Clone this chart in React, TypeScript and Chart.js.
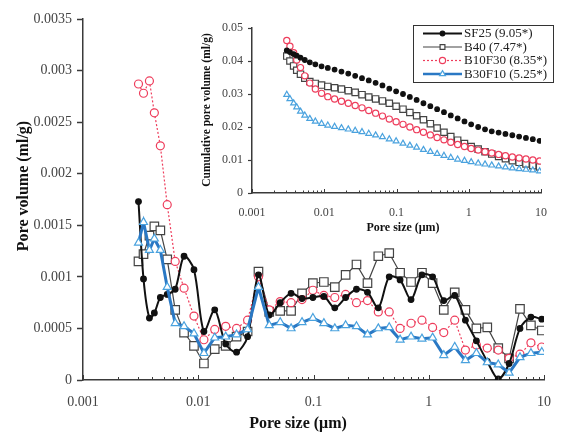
import React, { useEffect, useRef } from "react";
import { Chart, registerables } from "chart.js";

Chart.register(...registerables);

// ---------- data ----------
const poreSize = [
  0.00303, 0.00335, 0.00377, 0.00416, 0.00469, 0.00538, 0.00631, 0.00753, 0.00918,
  0.0112, 0.0139, 0.0173, 0.0215, 0.0268, 0.0333, 0.0413, 0.0514, 0.0639, 0.0795,
  0.0988, 0.123, 0.153, 0.19, 0.236, 0.294, 0.365, 0.454, 0.564, 0.702,
  0.873, 1.08, 1.35, 1.68, 2.08, 2.59, 3.22, 4.01, 4.98, 6.19,
  7.7, 9.57,
];

const sf25 = [
  0.00173, 0.00098, 0.0006, 0.00065, 0.0008, 0.00083, 0.00088, 0.0012, 0.00107,
  0.00047, 0.00068, 0.00035, 0.00027, 0.00042, 0.00102, 0.00063, 0.00075, 0.00084, 0.00079,
  0.0008, 0.00081, 0.0007, 0.0008, 0.00088, 0.00085, 0.0007, 0.001, 0.00097, 0.00078,
  0.00102, 0.001, 0.00077, 0.00082, 0.00058, 0.00038, 0.00018, 0.00001, 0.00016, 0.0005,
  0.00061, 0.00059,
];
const b40 = [
  0.00115, 0.00122, 0.0014, 0.00149, 0.00145, 0.00117, 0.00068, 0.00046, 0.00033,
  0.00016, 0.0003, 0.00033, 0.00042, 0.00047, 0.00105, 0.00066, 0.00067, 0.00067, 0.00084,
  0.00094, 0.00095, 0.0009, 0.00102, 0.00112, 0.00094, 0.0012, 0.00123, 0.00104, 0.00095,
  0.00104, 0.00094, 0.00068, 0.00085, 0.00068, 0.0005, 0.00051, 0.00031, 0.00021, 0.00069,
  0.00053, 0.00048,
];
const b10f30 = [
  0.00287, 0.00278, 0.0029, 0.00259, 0.00227, 0.0017, 0.00115, 0.00089, 0.00062,
  0.00039, 0.00049, 0.00052, 0.0005, 0.00058, 0.001, 0.00068, 0.00076, 0.00075, 0.00078,
  0.00087, 0.00082, 0.0008, 0.00083, 0.00075, 0.00077, 0.00066, 0.00066, 0.0005, 0.00055,
  0.00058, 0.00051, 0.00046, 0.00058, 0.00029, 0.00034, 0.00031, 0.00029, 0.00021, 0.00025,
  0.00036, 0.00032,
];
const b30f10 = [
  0.00133, 0.00153, 0.00126, 0.00137, 0.00126, 0.0009, 0.00055, 0.00052, 0.00045,
  0.00026, 0.00041, 0.00042, 0.00044, 0.00049, 0.0009, 0.00053, 0.00056, 0.0005, 0.00056,
  0.0006, 0.00055, 0.0005, 0.00053, 0.00052, 0.00044, 0.0005, 0.00051, 0.00039, 0.00042,
  0.0004, 0.00041, 0.00024, 0.00032, 0.00019, 0.00026, 0.00017, 0.00015, 0.00007, 0.00022,
  0.00026, 0.00027,
];

const cumSf25 = [
  0.0432, 0.0427, 0.0421, 0.0416, 0.041, 0.0403, 0.0396, 0.039, 0.0384,
  0.0379, 0.0374, 0.0368, 0.0362, 0.0355, 0.0348, 0.0341, 0.0334, 0.0326, 0.0316,
  0.0308, 0.03, 0.0291, 0.0282, 0.0272, 0.0263, 0.0254, 0.0245, 0.0235, 0.0226,
  0.0217, 0.0208, 0.02, 0.0193, 0.0187, 0.0183, 0.0179, 0.0175, 0.0171, 0.0167,
  0.0163, 0.0158,
];
const cumB40 = [
  0.0415, 0.04, 0.0385, 0.0372, 0.036, 0.0348, 0.0338, 0.0332, 0.0327,
  0.0323, 0.0319, 0.0315, 0.031, 0.0305, 0.0298, 0.0291, 0.0285, 0.0279, 0.0272,
  0.0263, 0.0254, 0.0244, 0.0234, 0.0222, 0.021, 0.0197, 0.0184, 0.0171, 0.016,
  0.015, 0.0141, 0.0133, 0.0125, 0.0118, 0.0111, 0.0104, 0.0098, 0.0093, 0.0088,
  0.0083, 0.0079,
];
const cumB10f30 = [
  0.0462, 0.0445, 0.0425, 0.0403, 0.038, 0.0355, 0.0333, 0.0315, 0.0302,
  0.0292, 0.0285, 0.0278, 0.0272, 0.0265, 0.0258, 0.025, 0.0242, 0.0233, 0.0224,
  0.0216, 0.0208, 0.02, 0.0192, 0.0184, 0.0176, 0.0168, 0.0161, 0.0154, 0.0147,
  0.0141, 0.0135, 0.013, 0.0125, 0.0121, 0.0117, 0.0113, 0.0109, 0.0106, 0.0103,
  0.01, 0.0097,
];
const cumB30f10 = [
  0.0298, 0.0285, 0.0272, 0.026, 0.0247, 0.0235, 0.0225, 0.0217, 0.021,
  0.0205, 0.0201, 0.0197, 0.0193, 0.0189, 0.0185, 0.018, 0.0175, 0.017, 0.0163,
  0.0157, 0.015, 0.0144, 0.0138, 0.0131, 0.0125, 0.0119, 0.0113, 0.0107, 0.0102,
  0.0098, 0.0094, 0.009, 0.0087, 0.0084, 0.0081, 0.0078, 0.0075, 0.0073, 0.0071,
  0.0069, 0.0066,
];

const seriesNames = ["SF25 (9.05*)", "B40 (7.47*)", "B10F30 (8.35*)", "B30F10 (5.25*)"];

const xTickValues = [0.001, 0.01, 0.1, 1, 10];
const xTickLabels = ["0.001", "0.01", "0.1", "1", "10"];
const yTickValues = [0, 0.0005, 0.001, 0.0015, 0.002, 0.0025, 0.003, 0.0035];
const yTickLabels = ["0", "0.0005", "0.001", "0.0015", "0.002", "0.0025", "0.003", "0.0035"];
const insetYTickValues = [0, 0.01, 0.02, 0.03, 0.04, 0.05];
const insetYTickLabels = ["0", "0.01", "0.02", "0.03", "0.04", "0.05"];

// ---------- styles ----------
const FONT = '"Liberation Serif", "Times New Roman", serif';
const AXIS = "#3a3a3a";
const LABEL = "#444";

type Sty = {
  line: string; stroke: string; fill: string; width: number; dash: number[];
  point: string; r: number; ir: number; tension: number; order: number;
};
const STY: Sty[] = [
  { line: "#111", stroke: "#111", fill: "#111", width: 2, dash: [], point: "circle", r: 2.8, ir: 2.3, tension: 0.3, order: 2 },
  { line: "#444", stroke: "#444", fill: "#fff", width: 1.2, dash: [], point: "rect", r: 6, ir: 4.5, tension: 0, order: 4 },
  { line: "#ee3d5c", stroke: "#ee3d5c", fill: "#fff", width: 1.2, dash: [2, 2], point: "circle", r: 4, ir: 3.1, tension: 0, order: 3 },
  { line: "#2a78c4", stroke: "#4aa2de", fill: "#fff", width: 3, dash: [], point: "triangle", r: 4.6, ir: 3.4, tension: 0, order: 1 },
];

function drawMarker(ctx: CanvasRenderingContext2D, kind: string, x: number, y: number, r: number, fill: string, stroke: string) {
  ctx.beginPath();
  if (kind === "circle") ctx.arc(x, y, r, 0, Math.PI * 2);
  else if (kind === "rect") {
    const s = r * Math.SQRT1_2;
    ctx.rect(x - s, y - s, 2 * s, 2 * s);
  } else {
    ctx.moveTo(x, y - r);
    ctx.lineTo(x + 0.866 * r, y + 0.5 * r);
    ctx.lineTo(x - 0.866 * r, y + 0.5 * r);
    ctx.closePath();
  }
  ctx.fillStyle = fill;
  ctx.fill();
  ctx.lineWidth = 1.2;
  ctx.strokeStyle = stroke;
  ctx.stroke();
}

type Decor = {
  major: number; minor: number;
  yTitle: string; yTitleX: number; yTitleY: number; yTitleFont: string;
  xTitle: string; xTitleX: number; xTitleY: number; xTitleFont: string;
  legend?: boolean;
};

function decorPlugin(d: Decor) {
  return {
    id: "decor",
    afterDraw(chart: any) {
      const ctx: CanvasRenderingContext2D = chart.ctx;
      const xs = chart.scales.x;
      const area = chart.chartArea;
      ctx.save();
      ctx.strokeStyle = AXIS;
      ctx.lineWidth = 1;
      for (const dec of xTickValues) {
        for (let m = 1; m <= 9; m++) {
          const v = dec * m;
          if (v > xs.max * 1.0001) continue;
          const px = Math.round(xs.getPixelForValue(v)) + 0.5;
          const len = m === 1 ? d.major : d.minor;
          ctx.beginPath();
          ctx.moveTo(px, area.bottom);
          ctx.lineTo(px, area.bottom - len);
          ctx.stroke();
        }
      }
      ctx.fillStyle = "#111";
      ctx.textAlign = "center";
      ctx.textBaseline = "middle";
      ctx.font = d.xTitleFont;
      ctx.fillText(d.xTitle, d.xTitleX, d.xTitleY);
      ctx.save();
      ctx.translate(d.yTitleX, d.yTitleY);
      ctx.rotate(-Math.PI / 2);
      ctx.font = d.yTitleFont;
      ctx.fillText(d.yTitle, 0, 0);
      ctx.restore();

      if (d.legend) {
        const bx = 223, by = 15, bw = 140, bh = 57;
        ctx.fillStyle = "#fff";
        ctx.fillRect(bx, by, bw, bh);
        ctx.strokeStyle = "#333";
        ctx.lineWidth = 1;
        ctx.strokeRect(bx + 0.5, by + 0.5, bw, bh);
        seriesNames.forEach((name, i) => {
          const s = STY[i];
          const y = by + 8.5 + i * 13.5;
          ctx.save();
          ctx.strokeStyle = s.line;
          ctx.lineWidth = Math.min(s.width, 2.5);
          ctx.setLineDash(s.dash);
          ctx.beginPath();
          ctx.moveTo(233, y);
          ctx.lineTo(272, y);
          ctx.stroke();
          ctx.restore();
          drawMarker(ctx, s.point, 252.5, y, Math.min(s.ir, 3.4), s.fill, s.stroke);
          ctx.fillStyle = "#222";
          ctx.textAlign = "left";
          ctx.textBaseline = "middle";
          ctx.font = `13px ${FONT}`;
          ctx.fillText(name, 274, y + 0.5);
        });
      }
      ctx.restore();
    },
  };
}

function toPts(vals: number[]) {
  return poreSize.map((x, i) => ({ x, y: vals[i] }));
}

export default function App() {
  const mainRef = useRef<HTMLCanvasElement>(null);
  const insetRef = useRef<HTMLCanvasElement>(null);

  useEffect(() => {
    const mainSeries = [sf25, b40, b10f30, b30f10];
    const cumSeries = [cumSf25, cumB40, cumB10f30, cumB30f10];

    const main = new Chart(mainRef.current as HTMLCanvasElement, {
      type: "scatter",
      data: {
        datasets: mainSeries.map((vals, i) => ({
          label: seriesNames[i],
          data: toPts(vals),
          showLine: true,
          borderColor: STY[i].line,
          borderWidth: STY[i].width,
          borderDash: STY[i].dash,
          tension: STY[i].tension,
          pointStyle: STY[i].point as any,
          pointRadius: STY[i].r,
          pointBackgroundColor: STY[i].fill,
          pointBorderColor: STY[i].stroke,
          pointBorderWidth: 1.2,
          order: STY[i].order,
        })),
      },
      options: {
        responsive: false,
        animation: false,
        devicePixelRatio: 1,
        layout: { padding: { left: 0, right: 17, top: 19, bottom: 0 } },
        plugins: { legend: { display: false }, tooltip: { enabled: false } },
        scales: {
          x: {
            type: "logarithmic",
            min: 0.001,
            max: 10,
            afterBuildTicks: (s: any) => { s.ticks = xTickValues.map((v) => ({ value: v })); },
            afterFit: (s: any) => { s.height = 58; },
            ticks: {
              autoSkip: false, maxRotation: 0, padding: 14, color: LABEL,
              font: { family: FONT, size: 14 },
              callback: (_v: any, i: number) => xTickLabels[i],
            },
            grid: { drawOnChartArea: false, drawTicks: false },
            border: { color: AXIS, width: 1.5 },
          },
          y: {
            type: "linear",
            min: 0,
            max: 0.0035,
            afterBuildTicks: (s: any) => { s.ticks = yTickValues.map((v) => ({ value: v })); },
            afterFit: (s: any) => { s.width = 83; },
            ticks: {
              padding: 5, color: LABEL,
              font: { family: FONT, size: 14 },
              callback: (_v: any, i: number) => yTickLabels[i],
            },
            grid: { drawOnChartArea: false, tickLength: 6, tickColor: AXIS, tickWidth: 1.5 },
            border: { color: AXIS, width: 1.5 },
          },
        },
      },
      plugins: [decorPlugin({
        major: 5, minor: 3,
        yTitle: "Pore volume (ml/g)", yTitleX: 24, yTitleY: 186, yTitleFont: `bold 16px ${FONT}`,
        xTitle: "Pore size (μm)", xTitleX: 298, xTitleY: 424, xTitleFont: `bold 16px ${FONT}`,
      })],
    } as any);

    const inset = new Chart(insetRef.current as HTMLCanvasElement, {
      type: "scatter",
      data: {
        datasets: cumSeries.map((vals, i) => ({
          label: seriesNames[i],
          data: toPts(vals),
          showLine: false,
          pointStyle: STY[i].point as any,
          pointRadius: STY[i].ir,
          pointBackgroundColor: STY[i].fill,
          pointBorderColor: STY[i].stroke,
          pointBorderWidth: 1.2,
          order: STY[i].order,
        })),
      },
      options: {
        responsive: false,
        animation: false,
        devicePixelRatio: 1,
        layout: { padding: { left: 0, right: 15, top: 18, bottom: 0 } },
        plugins: { legend: { display: false }, tooltip: { enabled: false } },
        scales: {
          x: {
            type: "logarithmic",
            min: 0.001,
            max: 10,
            afterBuildTicks: (s: any) => { s.ticks = xTickValues.map((v) => ({ value: v })); },
            afterFit: (s: any) => { s.height = 47; },
            ticks: {
              autoSkip: false, maxRotation: 0, padding: 13, color: LABEL,
              font: { family: FONT, size: 12 },
              callback: (_v: any, i: number) => xTickLabels[i],
            },
            grid: { drawOnChartArea: false, drawTicks: false },
            border: { color: AXIS, width: 1.5 },
          },
          y: {
            type: "linear",
            min: 0,
            max: 0.05,
            afterBuildTicks: (s: any) => { s.ticks = insetYTickValues.map((v) => ({ value: v })); },
            afterFit: (s: any) => { s.width = 62; },
            ticks: {
              padding: 5, color: LABEL,
              font: { family: FONT, size: 12 },
              callback: (_v: any, i: number) => insetYTickLabels[i],
            },
            grid: { drawOnChartArea: false, tickLength: 4, tickColor: AXIS, tickWidth: 1.2 },
            border: { color: AXIS, width: 1.5 },
          },
        },
      },
      plugins: [decorPlugin({
        major: 4, minor: 2.5,
        yTitle: "Cumulative pore volume (ml/g)", yTitleX: 17, yTitleY: 100, yTitleFont: `bold 11.5px ${FONT}`,
        xTitle: "Pore size (μm)", xTitleX: 213, xTitleY: 218, xTitleFont: `bold 12px ${FONT}`,
        legend: true,
      })],
    } as any);

    return () => {
      main.destroy();
      inset.destroy();
    };
  }, []);

  return (
    <div style={{ position: "fixed", left: 0, top: 0, width: 565, height: 438, background: "#fff" }}>
      <canvas ref={mainRef} width={565} height={438} style={{ position: "absolute", left: 0, top: 0 }} />
      <canvas ref={insetRef} width={370} height={230} style={{ position: "absolute", left: 190, top: 10 }} />
    </div>
  );
}
